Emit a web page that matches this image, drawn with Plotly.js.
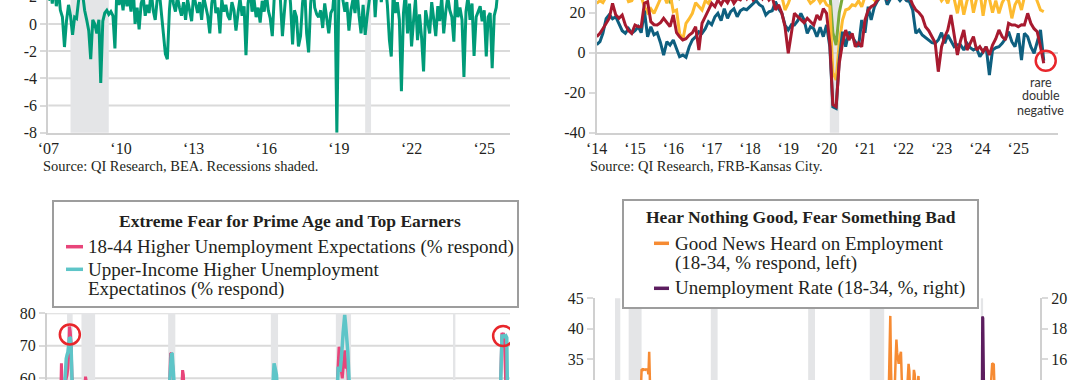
<!DOCTYPE html>
<html><head><meta charset="utf-8">
<script src="https://cdn.plot.ly/plotly-3.0.1.min.js"></script>
<style>
html,body{margin:0;padding:0;background:#fff;overflow:hidden;width:1080px;height:380px}
#wrap{position:relative;width:1080px;height:380px;overflow:hidden;background:#fff}
#chart{position:absolute;left:0;top:-100px;width:1080px;height:720px}
</style>
</head><body><div id="wrap"><div id="chart"></div></div>
<script>
// ---------------- DATA ----------------
// Top-left: monthly, Jan 2007 - Aug 2025
const tlValues = [
 1.7, 2.5, 1.5, 3.0, 1.3, 2.6, 1.0, 0.5, -1.7, 0.2, 1.4, 0.6,
 -0.8, 0.5, 0.4, 2.0, 3.0, 2.2, 1.0, 0.3, -0.5, -2.6, 0.3, 0.0,
 -0.7, 0.3, -4.35, 0.2, 0.8, 1.0, 0.7, 0.9, 0.6, -1.8, 2.8, 1.4,
 2.2, 1.0, 2.6, 1.3, 2.0, 0.9, 3.0, 0.0, 1.2, -0.4, 1.5, 2.0,
 0.6, 1.4, 0.8, 2.5, 1.0, 0.3, 1.8, 2.4, 0.9, -0.7, -2.2, -2.6,
 1.0, 2.8, 1.5, 0.9, 2.0, 1.2, 0.6, 1.6, 0.3, 1.8, 1.0, 0.2,
 2.2, 1.4, 0.8, 1.6, 0.3, 2.0, 1.2, 0.6, -0.7, 1.5, 2.5, 0.8,
 1.2, -0.7, 1.8, 0.9, 1.4, 0.6, 0.3, 1.6, 1.0, -0.5, 0.8, 1.9,
 0.6, 1.3, -2.3, 1.5, 2.6, 0.9, 1.8, 0.5, 1.2, 0.1, 1.7, 0.9,
 2.3, 1.0, 0.4, -0.9, 2.0, 3.0, 2.6, 1.8, -0.9, 1.2, 2.8, 3.2,
 1.5, -1.5, 1.0, 0.5, -1.65, -0.9, 1.5, 2.9, -0.7, -2.1, 1.5, 3.1,
 1.2, 0.7, 0.5, 1.0, -0.3, 1.5, 0.3, -0.7, 0.8, 1.1, 3.0, -8.0,
 2.6, 3.5, 1.8, 0.9, 1.6, -0.5, 1.0, 1.8, 0.8, 2.5, 0.6, -0.7,
 1.4, -0.8, 0.5, 1.9, 2.8, 3.5, 0.5, 2.9, 3.3, 1.6, 2.7, 3.0,
 1.4, -1.2, -2.4, 2.6, 0.8, 1.6, 0.3, -4.95, 0.8, 2.4, -0.7, 1.5,
 -1.65, 0.3, 1.8, -1.2, 0.7, -1.0, -3.5, 1.0, 0.2, -0.7, 1.6, 0.5,
 -0.9, 1.3, 0.2, 2.0, -0.7, 0.9, 2.0, 1.0, 0.5, -1.3, 2.5, 0.5,
 1.2, 0.3, -3.9, 0.9, 2.0, 0.3, 1.5, -2.35, 0.5, 0.9, 1.3, 0.2,
 1.0, -2.4, 0.5, 0.8, -3.25, 0.6, 1.2, 2.8
];
const tlTickVals = ['2007-01-01','2010-01-01','2013-01-01','2016-01-01','2019-01-01','2022-01-01','2025-01-01'];
const tlTickText = ['\u201807','\u201810','\u201813','\u201816','\u201819','\u201822','\u201825'];
const tlYVals = [-8,-6,-4,-2,0,2];
const tlYText = ['-8','-6','-4','-2','0','2'];

// Top-right: monthly, Jan 2014 - Sep 2025
const trBlue = [
 4, 5.5, 9.7, 17, 19, 17, 18, 14.7, 11, 9.7, 12, 9.7,
 11, 13, 10, 21, 8, 13, 9, 10, 5, -1.2, 5.5, 3.85,
 6.35, 2, -2, -1.2, -2.3, 3, 6.4, 8, 10.5, 9.7, 12, 15.5,
 14, 18, 19.7, 16, 22, 17.2, 20.5, 22, 18, 21, 22, 21.5,
 23, 25, 26, 24, 23, 18.85, 20.5, 21, 25.5, 22, 19.7, 13.85,
 11.35, 14, 13.85, 16, 19.7, 16.35, 9.7, 13, 12, 8, 12.7, 8,
 13.85, 3, -27, -27.8, -3.65, 10.5, 3, 10.5, 8, 5, 3, 16.35,
 10, 23, 16.35, 23, 26, 28, 30, 24, 27, 30, 28, 26,
 28, 26, 25.5, 21.35, 9.7, 11.35, 8.85, 7.5, 6.35, 5, 4.7, 6.35,
 10, 4.7, 8.85, 5.5, 3, 4, 3.85, 1.35, 4.7, 2.5, 1.35, 2.2,
 -2, 0.5, 3, -11.15, 1.35, 2.5, 3, 4.7, 7, 10.5, 5.5, 3,
 9.7, -3.65, 9.7, 8, 3, -0.3, 5, 11.35, -4
];
const trRed = [
 8, 9.7, 12, 14.7, 17.2, 24.7, 19, 17.2, 18.85, 13.85, 11, 9.7,
 13.85, 13, 13, 24.7, 25.5, 15.5, 14, 13.85, 15, 17.2, 15, 13,
 18.85, 10, 8, 6.35, 7, 8.85, 10, 13, 1.35, 14.7, 18, 21.35,
 24.7, 23, 26.35, 24, 27, 25, 28, 24.7, 27, 26.35, 29, 27,
 30, 26.35, 28, 30, 27, 29, 26.35, 28, 21.35, 24, 19.7, 13,
 -0.3, 11.35, 19.7, 18, 16.35, 15, 17.2, 15.5, 13.85, 18.85, 16.35, 22,
 19.7, 4.7, -26, -27, -5.3, 4.7, 11.35, 6.35, 9.7, 3, 5, 3,
 16.35, 21.35, 23, 24, 26.35, 28, 30, 27, 29, 31, 28, 30,
 29, 27, 28, 24, 21.35, 20, 18, 13, 11, 8, 5, -9.5,
 3, 8, 11.35, 18.85, 9.7, -1.15, 6, 11.35, 1.35, 5, 8, 1.35,
 3, 0.5, 3, -1.15, 3.85, 7, 11.35, 8, 6.35, 14.7, 13.85, 13.85,
 13, 14, 13.85, 19.7, 14.7, 12, 10.5, 3, -5.3
];
const trYellow = [
 24.7, 26, 25, 28, 30, 32, 29, 31, 28, 30, 25.5, 26,
 29, 31, 28, 23, 20, 22, 19.7, 23, 27, 29, 24.7, 30,
 20.5, 21.35, 9.7, 6.35, 14.7, 17, 19.7, 25, 23, 21.35, 26, 24.7,
 28, 30, 33, 29, 31, 34, 32, 30, 35, 33, 31, 34,
 36, 33, 35, 38, 34, 32, 30, 33, 28, 29, 28, 21.35,
 24.7, 29, 31, 28, 32, 30, 27, 24.7, 26, 28, 25, 27,
 24, 23, -10, -13.65, 5, 16.35, 21.35, 22, 24, 23.5, 26, 23,
 28, 29, 28, 26.35, 32, 35, 38, 40, 37, 39, 36, 38,
 35, 36, 34, 33, 31, 30, 29, 31, 28, 30, 32, 29,
 26, 28, 24.7, 30, 27, 19.7, 28, 19, 26, 30, 20, 27,
 31, 18.5, 28, 27, 20, 26, 19.7, 25, 28, 26, 17.2, 24,
 27, 21.35, 28, 29, 28, 30, 26, 21.35, 20.5
];
const trGreen = [
 30, 32, 34, 33, 35, 36, 34, 33, 35, 32, 30, 31,
 33, 34, 32, 30, 31, 29, 30, 32, 33, 31, 28, 25.5,
 28, 30, 27, 28, 30, 31, 33, 34, 32, 35, 36, 37,
 38, 37, 39, 40, 38, 41, 39, 40, 42, 40, 38, 41,
 43, 40, 42, 44, 41, 39, 40, 42, 38, 37, 36, 33,
 32, 35, 37, 36, 38, 37, 35, 34, 36, 35, 33, 34,
 32, 30, 10, 3.85, 20, 28, 30, 31, 33, 32, 34, 33,
 36, 38, 40, 42, 44, 46, 48, 47, 49, 45, 47, 44,
 45, 43, 42, 40, 38, 37, 36, 35, 34, 33, 34, 32,
 33, 31, 32, 30, 31, 30, 29, 31, 30, 32, 29, 30,
 31, 29, 30, 28, 30, 29, 28, 30, 31, 29, 28, 30,
 31, 29, 30, 32, 30, 29, 31, 28, 29
];
const trTickVals = ['2014-01-01','2015-01-01','2016-01-01','2017-01-01','2018-01-01','2019-01-01','2020-01-01','2021-01-01','2022-01-01','2023-01-01','2024-01-01','2025-01-01'];
const trTickText = ['\u201814','\u201815','\u201816','\u201817','\u201818','\u201819','\u201820','\u201821','\u201822','\u201823','\u201824','\u201825'];
const trYVals = [-40,-20,0,20];
const trYText = ['-40','-20','0','20'];
const trNote = ['rare','double','negative'];

// Bottom-left: 18-44 (pink) and upper-income (teal) higher unemployment expectations
const blPinkDates = ['1978-01','1978-06','1979-01','1979-04','1979-05','1979-06','1979-07','1979-08','1979-09','1979-10','1979-11','1979-12',
 '1980-01','1980-02','1980-03','1980-04','1980-05','1980-06','1980-07','1980-08','1980-12','1981-06','1981-10','1981-11','1981-12',
 '1982-01','1982-02','1982-03','1982-08','1983-03','1984-01','1986-01','1988-01','1989-06','1990-06','1990-08','1990-09','1990-10',
 '1990-11','1990-12','1991-01','1991-02','1991-03','1991-06','1991-10','1991-12','1992-01','1992-02','1992-03','1992-06','1993-06',
 '1995-01','1997-01','1999-01','2000-06','2001-03','2001-06','2001-09','2001-10','2001-11','2002-03','2002-10','2003-03','2004-01',
 '2006-01','2007-06','2007-12','2008-01','2008-02','2008-03','2008-04','2008-05','2008-06','2008-07','2008-08','2008-09','2008-10',
 '2008-11','2008-12','2009-01','2009-02','2009-03','2009-04','2009-05','2009-08','2010-06','2011-08','2012-06','2014-01','2016-01',
 '2018-01','2019-08','2020-03','2020-04','2020-05','2020-08','2021-06','2022-06','2023-06','2024-06','2024-12','2025-01','2025-02',
 '2025-03','2025-04','2025-05','2025-06','2025-07','2025-08','2025-09','2025-10'];
const blPinkValues = [38,36,40,48,52,64.6,53,55,54,57,59,60,
 61,63,67,75.9,74.5,71,62,55,50,48,54,57,60.5,
 59,57,55,54,44,36,34,32,35,42,52,58,67.5,
 67.7,66,63,57,54,50,54,57,62.5,61,55,50,42,
 34,32,28,30,42,48,52,58,56,48,45,50,40,
 38,42,52,55,60,63.5,69.7,68.5,63,62,60,64,68,
 68.6,66,63,64.5,62,56,52,48,42,48,40,36,32,
 28,33,45,55,52,42,30,36,34,38,48,60.5,68,
 74,72,74,71.5,60.5,56,58,55];
const blTealDates = ['1978-01','1978-06','1979-01','1979-06','1979-09','1979-10','1979-11','1979-12','1980-01','1980-02','1980-03','1980-04',
 '1980-05','1980-06','1980-07','1980-08','1980-12','1981-06','1981-12','1982-06','1983-03','1984-01','1986-01','1988-01','1989-06',
 '1990-06','1990-08','1990-09','1990-10','1990-11','1990-12','1991-01','1991-02','1991-03','1991-06','1992-01','1992-06','1993-06',
 '1995-01','1997-01','1999-01','2000-06','2001-03','2001-05','2001-06','2001-07','2001-08','2001-09','2001-10','2001-11','2002-03',
 '2002-10','2003-03','2004-01','2006-01','2007-06','2007-12','2008-01','2008-02','2008-03','2008-04','2008-05','2008-06','2008-07',
 '2008-08','2008-09','2008-10','2008-11','2008-12','2009-01','2009-02','2009-03','2009-04','2009-05','2009-06','2009-10','2010-06',
 '2011-08','2012-06','2014-01','2016-01','2018-01','2019-08','2020-03','2020-04','2020-05','2020-08','2021-06','2022-06','2023-06',
 '2024-06','2024-12','2025-01','2025-02','2025-03','2025-04','2025-05','2025-06','2025-07','2025-08','2025-09','2025-10'];
const blTealValues = [30,28,34,45,52,58,64.6,66,67.2,68,70,72.6,
 72.4,70,60,52,45,42,52,50,40,30,28,26,30,
 38,55,61,66,67.7,67.5,65,60,54,46,52,44,36,
 28,26,24,26,40,55,61,64.6,63.5,62,61,56,46,
 44,48,36,32,38,48,52,57,63.5,63,62,64,66,
 70,74,79,79.5,77,74,71,68,62,58,52,48,40,
 46,36,32,26,22,28,40,52,50,38,24,32,30,
 34,45,55,72,73,73,72.5,73,72.8,73,72.5,52];
const blYVals = [60,70,80];

// Bottom-right: good news heard (orange, left) and 18-34 unemployment rate (purple, right)
const brOrangeDates = ['1978-01','1979-06','1980-06','1981-06','1982-06','1982-11','1982-12','1983-01','1983-02','1983-03','1983-04','1983-05',
 '1983-06','1983-07','1983-08','1983-09','1983-10','1983-11','1984-03','1985-01','1987-01','1989-01','1990-06','1991-06','1993-01',
 '1995-01','1997-01','1998-06','2000-01','2001-06','2002-06','2004-01','2006-01','2007-06','2008-06','2009-06','2009-12','2010-01',
 '2010-02','2010-03','2010-04','2010-05','2010-08','2010-09','2010-10','2010-11','2010-12','2011-01','2011-02','2011-03','2011-04',
 '2011-05','2011-06','2011-07','2011-10','2012-01','2012-02','2012-03','2012-04','2012-05','2012-09','2012-10','2012-11','2012-12',
 '2013-02','2013-03','2013-04','2013-05','2013-10','2014-06','2015-06','2016-06','2017-06','2018-06','2019-06','2020-01','2020-04',
 '2020-10','2021-01','2021-03','2021-04','2021-05','2021-06','2021-07','2021-08','2021-10','2022-06','2023-06','2024-06','2025-06'];
const brOrangeValues = [28,24,18,20,22,30,33.2,33.3,33.2,33.3,33.2,33.2,
 33.3,33.2,33.2,32.5,36.2,31,28,26,24,26,22,14,18,
 24,26,28,27,14,18,22,26,22,10,16,26,30,
 35,42.1,33,28,29,31,35,38.2,36,35,34.2,35,35.5,
 36.2,32,29,28,30,32,34.2,33,30,30.5,33.2,32.5,30,
 30,31,32.2,30,28,30,31,30,31,30,29,28,14,
 20,27,30,34.2,34.3,34.2,34.1,30,27,28,25,22,18];
const brPurpleDates = ['1978-01','1980-06','1982-11','1984-06','1989-01','1992-06','2000-01','2003-06','2007-01','2009-10','2011-01','2015-01',
 '2019-12','2020-03','2020-04','2020-05','2020-06','2020-09','2021-06','2022-06','2023-06','2024-06','2025-08'];
const brPurpleValues = [9,11,14.2,10,7.5,11,6,9,6.5,14.2,13.5,8.5,
 5.5,7.5,18.8,18.7,14.3,12,9.5,5.5,5.5,6.2,6.8];
const brLeftVals = [35,40,45];
const brRightVals = [16,18,20];

const recStart = ['1980-01-01','1981-07-01','1990-07-01','2001-03-01','2007-12-01','2020-02-01'];
const recEnd   = ['1980-07-31','1982-11-30','1991-03-31','2001-11-30','2009-06-30','2020-04-30'];

// ---------------- HELPERS ----------------
function monthSeq(y, m, n){
  const out=[];
  for(let i=0;i<n;i++){
    const yy=y+Math.floor((m-1+i)/12), mm=((m-1+i)%12)+1;
    out.push(yy+'-'+String(mm).padStart(2,'0')+'-01');
  }
  return out;
}
const tlDates = monthSeq(2007,1,tlValues.length);
const trDates = monthSeq(2014,1,trBlue.length);

const W=1080, H=720, OFF=100;
const px = x => x/W;
const py = v => 1-(v+OFF)/H;

const SERIF = 'Liberation Serif, Times New Roman, serif';
const SANS = 'Lato, Open Sans, sans-serif';
const TXT = '#231f20';
const GRID = '#dadada';
const AXL = '#d0d0d0';
const SHADE = '#e4e5e7';
const RED = '#e8262b';
const TF = {family:SERIF, size:16, color:TXT};

// ---------------- TRACES ----------------
const traces = [
  {x:tlDates, y:tlValues, xaxis:'x', yaxis:'y', type:'scatter', mode:'lines', line:{color:'#009b78', width:3}},
  {x:trDates, y:trGreen, xaxis:'x2', yaxis:'y2', type:'scatter', mode:'lines', line:{color:'#79aa3d', width:3}},
  {x:trDates, y:trYellow, xaxis:'x2', yaxis:'y2', type:'scatter', mode:'lines', line:{color:'#fdbb30', width:3}},
  {x:trDates, y:trBlue, xaxis:'x2', yaxis:'y2', type:'scatter', mode:'lines', line:{color:'#0e5f7f', width:3}},
  {x:trDates, y:trRed, xaxis:'x2', yaxis:'y2', type:'scatter', mode:'lines', line:{color:'#a71a2f', width:3}},
  {x:blPinkDates, y:blPinkValues, xaxis:'x3', yaxis:'y3', type:'scatter', mode:'lines', line:{color:'#e8457a', width:3}},
  {x:blTealDates, y:blTealValues, xaxis:'x3', yaxis:'y3', type:'scatter', mode:'lines', line:{color:'#5ec5c8', width:3.5}},
  {x:brOrangeDates, y:brOrangeValues, xaxis:'x4', yaxis:'y4', type:'scatter', mode:'lines', line:{color:'#f68b33', width:2.5}},
  {x:brPurpleDates, y:brPurpleValues, xaxis:'x4', yaxis:'y5', type:'scatter', mode:'lines', line:{color:'#5c1d5f', width:2.5}}
];

// ---------------- SHAPES ----------------
const shapes = [];
// horizontal gridlines (drawn first so the recession shading sits over them)
function addGrid(xr, yr, vals){
  vals.forEach(v => shapes.push({type:'line', xref:xr+' domain', yref:yr, x0:0, x1:1, y0:v, y1:v,
    line:{color:GRID, width:2}, layer:'below'}));
}
addGrid('x','y',[-6,-4,-2,0,2,4,6]);
addGrid('x3','y3',[30,40,50,60,70,80]);

function addRec(xr, yr, minDate){
  for(let i=0;i<recStart.length;i++){
    if(recEnd[i] < minDate) continue;
    shapes.push({type:'rect', xref:xr, yref:yr+' domain', x0:recStart[i], x1:recEnd[i], y0:0, y1:1,
      fillcolor:SHADE, line:{width:0}, layer:'below'});
  }
}
addRec('x','y','2007-01-01');
addRec('x2','y2','2014-01-01');
addRec('x3','y3','1977-01-01');
addRec('x4','y4','1977-01-01');

// circles
shapes.push({type:'circle', xref:'x2', yref:'y2', xsizemode:'pixel', ysizemode:'pixel',
  xanchor:trDates[trDates.length-1], yanchor:trBlue[trBlue.length-1], x0:-8, x1:12, y0:-10, y1:10,
  line:{color:RED, width:2.5}});
shapes.push({type:'circle', xref:'x3', yref:'y3', xsizemode:'pixel', ysizemode:'pixel',
  xanchor:'1980-04-15', yanchor:73.5, x0:-10, x1:10, y0:-10, y1:10, line:{color:RED, width:2.5}});
shapes.push({type:'circle', xref:'x3', yref:'y3', xsizemode:'pixel', ysizemode:'pixel',
  xanchor:'2025-04-15', yanchor:73, x0:-10, x1:10, y0:-10, y1:10, line:{color:RED, width:2.5}});

// legend boxes
shapes.push({type:'rect', xref:'paper', yref:'paper', x0:px(53), x1:px(518), y0:py(307), y1:py(201),
  fillcolor:'#ffffff', line:{color:'#9d9d9d', width:2}});
shapes.push({type:'rect', xref:'paper', yref:'paper', x0:px(623), x1:px(978), y0:py(308), y1:py(200),
  fillcolor:'#ffffff', line:{color:'#9d9d9d', width:2}});
// legend keys
shapes.push({type:'line', xref:'paper', yref:'paper', x0:px(66), x1:px(83), y0:py(246.7), y1:py(246.7), line:{color:'#e8457a', width:3.5}});
shapes.push({type:'line', xref:'paper', yref:'paper', x0:px(66), x1:px(83), y0:py(269.3), y1:py(269.3), line:{color:'#5ec5c8', width:3.5}});
shapes.push({type:'line', xref:'paper', yref:'paper', x0:px(654), x1:px(669), y0:py(243.3), y1:py(243.3), line:{color:'#f68b33', width:3.5}});
shapes.push({type:'line', xref:'paper', yref:'paper', x0:px(654), x1:px(669), y0:py(288.3), y1:py(288.3), line:{color:'#5c1d5f', width:3.5}});

// ---------------- ANNOTATIONS ----------------
const ann = [];
function txt(x, y, text, opts){
  ann.push(Object.assign({xref:'paper', yref:'paper', x:px(x), y:py(y), text:text, showarrow:false,
    xanchor:'left', yanchor:'middle', borderpad:0, font:{family:SERIF, size:19, color:TXT}}, opts||{}));
}
txt(42, 166, 'Source: QI Research, BEA. Recessions shaded.', {font:{family:SERIF, size:14.5, color:TXT}});
txt(589, 166, 'Source: QI Research, FRB-Kansas City.', {font:{family:SERIF, size:14.5, color:TXT}});
trNote.forEach((w,i)=>{
  ann.push({xref:'x2', yref:'paper', x:trDates[trDates.length-1], xshift:-3, y:py(82+i*14), text:w, showarrow:false,
    xanchor:'center', yanchor:'middle', borderpad:0, font:{family:SANS, size:12.5, color:'#333333'}});
});
txt(290, 220.5, '<b>Extreme Fear for Prime Age and Top Earners</b>', {xanchor:'center', font:{family:SERIF, size:17.5, color:TXT}});
txt(87, 246.7, '18-44 Higher Unemployment Expectations (% respond)');
txt(87, 269.3, 'Upper-Income Higher Unemployment');
txt(87, 289.3, 'Expectatinos (% respond)');
txt(801, 216.7, '<b>Hear Nothing Good, Fear Something Bad</b>', {xanchor:'center', font:{family:SERIF, size:17.5, color:TXT}});
txt(673.5, 243.3, 'Good News Heard on Employment');
txt(673.5, 263.3, '(18-34, % respond, left)');
txt(673.5, 288.3, 'Unemployment Rate (18-34, %, right)');

// ---------------- LAYOUT ----------------
const baseY = {showline:true, linecolor:AXL, linewidth:2, ticks:'outside', ticklen:6, tickwidth:2, tickcolor:GRID,
  zeroline:false, showgrid:false, tickfont:TF, fixedrange:true};
const baseX = {type:'date', showgrid:false, showline:true, linecolor:AXL, linewidth:2, ticks:'', zeroline:false,
  tickfont:TF, fixedrange:true};

const layout = {
  width:W, height:H, margin:{l:0,r:0,t:0,b:0,pad:0},
  paper_bgcolor:'#ffffff', plot_bgcolor:'#ffffff', showlegend:false,
  xaxis: Object.assign({}, baseX, {domain:[px(48.3), px(510)], anchor:'y', range:['2006-12-31','2026-01-25'],
    tickmode:'array', tickvals:tlTickVals, ticktext:tlTickText}),
  yaxis: Object.assign({}, baseY, {domain:[py(132.7), py(-57.7)], anchor:'x', range:[-8,6],
    tickmode:'array', tickvals:tlYVals, ticktext:tlYText}),
  xaxis2: Object.assign({}, baseX, {domain:[px(596.7), px(1058)], anchor:'y2', range:['2014-01-01','2026-01-15'],
    tickmode:'array', tickvals:trTickVals, ticktext:trTickText}),
  yaxis2: Object.assign({}, baseY, {domain:[py(132.7), py(-67.3)], anchor:'x2', range:[-40,60],
    tickmode:'array', tickvals:trYVals, ticktext:trYText, zeroline:true, zerolinecolor:AXL, zerolinewidth:2}),
  xaxis3: Object.assign({}, baseX, {domain:[px(47), px(510)], anchor:'y3', range:['1977-12-01','2026-01-01'], showticklabels:false}),
  yaxis3: Object.assign({}, baseY, {domain:[py(508.3), py(313.3)], anchor:'x3', range:[20,80], tickmode:'array', tickvals:blYVals}),
  xaxis4: Object.assign({}, baseX, {domain:[px(595), px(1040)], anchor:'y4', range:['1977-10-23','2026-07-26'], showticklabels:false}),
  yaxis4: Object.assign({}, baseY, {domain:[py(541.1), py(298.3)], anchor:'x4', range:[5,45], tickmode:'array', tickvals:brLeftVals}),
  yaxis5: Object.assign({}, baseY, {overlaying:'y4', side:'right', anchor:'x4', range:[4,20], tickmode:'array', tickvals:brRightVals}),
  shapes: shapes,
  annotations: ann
};

Plotly.newPlot('chart', traces, layout, {staticPlot:true, displayModeBar:false});
</script>
</body></html>
